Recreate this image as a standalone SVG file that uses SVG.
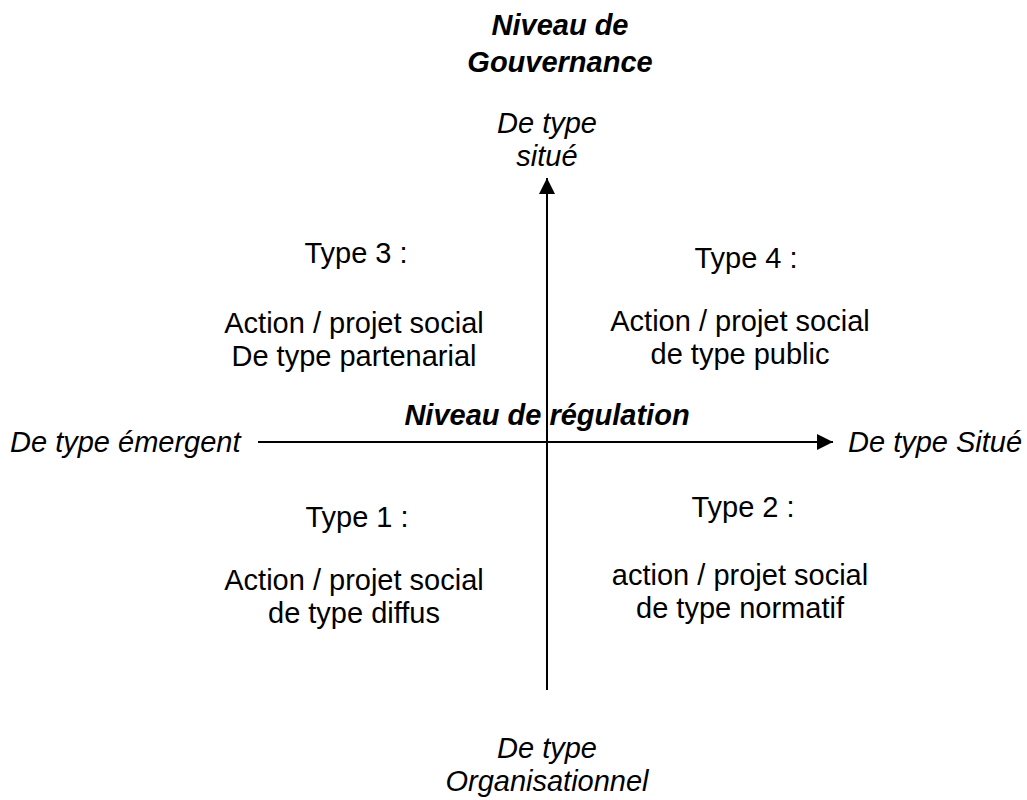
<svg xmlns="http://www.w3.org/2000/svg" width="1027" height="800" viewBox="0 0 1027 800">
<style>
text{font-family:"Liberation Sans",Arial,sans-serif;font-size:29px;fill:#000}
.i{font-style:italic}
.b{font-weight:bold;font-style:italic}
.m{text-anchor:middle}
.ax{stroke:#000;stroke-width:2;fill:none}
</style>
<defs>
<marker id="ah" viewBox="0 0 16 16" refX="16" refY="8" markerWidth="16" markerHeight="16" markerUnits="userSpaceOnUse" orient="auto">
<path d="M0,0 L16,8 L0,16 z" fill="#000"/>
</marker>
</defs>
<rect width="1027" height="800" fill="#fff"/>
<g id="connectors">
<line class="ax" x1="547" y1="690" x2="547" y2="178" marker-end="url(#ah)"/>
<line class="ax" x1="258" y1="442" x2="833" y2="442" marker-end="url(#ah)"/>
</g>
<g id="gouvernance">
<text class="b m" x="560" y="35">Niveau de</text>
<text class="b m" x="560" y="72">Gouvernance</text>
</g>
<g id="top-label">
<text class="i m" x="547" y="133">De type</text>
<text class="i m" x="547" y="166">situé</text>
</g>
<g id="bottom-label">
<text class="i m" x="547" y="758">De type</text>
<text class="i m" x="547" y="791">Organisationnel</text>
</g>
<g id="left-label">
<text class="i" x="10" y="452">De type émergent</text>
</g>
<g id="right-label">
<text class="i" x="848" y="452">De type Situé</text>
</g>
<g id="regulation">
<text class="b m" x="547" y="425">Niveau de régulation</text>
</g>
<g id="type3">
<text class="m" x="356" y="263">Type 3 :</text>
<text class="m" x="354" y="333">Action / projet social</text>
<text class="m" x="354" y="366">De type partenarial</text>
</g>
<g id="type4">
<text class="m" x="746" y="268">Type 4 :</text>
<text class="m" x="740" y="331">Action / projet social</text>
<text class="m" x="740" y="364">de type public</text>
</g>
<g id="type1">
<text class="m" x="357" y="527">Type 1 :</text>
<text class="m" x="354" y="590">Action / projet social</text>
<text class="m" x="354" y="623">de type diffus</text>
</g>
<g id="type2">
<text class="m" x="743" y="517">Type 2 :</text>
<text class="m" x="740" y="585">action / projet social</text>
<text class="m" x="740" y="618">de type normatif</text>
</g>
</svg>
